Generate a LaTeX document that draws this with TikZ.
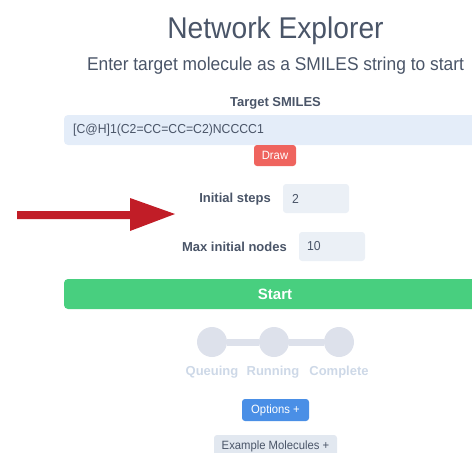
\documentclass[tikz,border=0pt]{standalone}
\usepackage{fontspec}
\usetikzlibrary{calc}
\setmainfont{Liberation Sans}
\newfontfamily\narrowfont[FakeStretch=0.94]{Liberation Sans}
\definecolor{slate}{HTML}{4A5568}
\definecolor{fieldblue}{HTML}{E4EDF9}
\definecolor{fieldgray}{HTML}{EBF0F6}
\definecolor{drawred}{HTML}{EF645E}
\definecolor{arrowred}{HTML}{C11D27}
\definecolor{startgreen}{HTML}{48CF7F}
\definecolor{stepgray}{HTML}{DDE1EB}
\definecolor{steptext}{HTML}{CDD8E7}
\definecolor{optblue}{HTML}{4A8FE6}
\definecolor{btngray}{HTML}{E2E8F0}
\tikzset{
  x=1pt, y=-1pt,
  heading/.style={text=slate, inner sep=0pt, anchor=base},
  fieldlabel/.style={text=slate, font=\bfseries\fontsize{13}{15}\selectfont, inner sep=0pt},
  smallfield/.style={fill=fieldgray, rounded corners=3pt, minimum width=66pt, minimum height=29pt, inner sep=0pt},
  fieldtext/.style={text=slate, font=\narrowfont\fontsize{13}{15}\selectfont, inner sep=0pt, anchor=west},
  stepdot/.style={circle, fill=stepgray, minimum size=30pt, inner sep=0pt},
  steplabel/.style={text=steptext, font=\bfseries\fontsize{13}{15}\selectfont, inner sep=0pt},
  btn/.style={rounded corners=3pt, inner sep=0pt, font=\narrowfont\fontsize{12}{14}\selectfont},
}
\begin{document}
\begin{tikzpicture}
\useasboundingbox (0,0) rectangle (472,453);

% headings
\node[heading, font=\narrowfont\fontsize{30}{34}\selectfont] (title) at (275.5,38) {Network Explorer};
\node[heading, font=\narrowfont\fontsize{18.5}{22}\selectfont] (subtitle) at (275.5,70) {Enter target molecule as a SMILES string to start};

% target SMILES field
\node[fieldlabel] (smileslabel) at (275.5,103) {Target SMILES};
\fill[fieldblue, rounded corners=4pt] (64,115) rectangle (490,145);
\node[fieldtext] (smiles) at (73,130) {[C@H]1(C2=CC=CC=C2)NCCCC1};
\node[btn, fill=drawred, text=white, minimum width=42pt, minimum height=21pt] (draw) at (275,155.5) {Draw};

% numeric fields
\node[fieldlabel, anchor=east] (stepslabel) at (271,199) {Initial steps};
\node[smallfield] (stepsbox) at (316,198.5) {};
\node[fieldtext] (steps) at (292,198.5) {2};
\node[fieldlabel, anchor=east] (nodeslabel) at (287,247) {Max initial nodes};
\node[smallfield] (nodesbox) at (332,246.5) {};
\node[fieldtext] (nodes) at (307,246.5) {10};

% pointer arrow
\coordinate (tail) at (17,215);
\coordinate (tip) at (175,214);
\fill[arrowred] ($(tail)+(0,-4)$) -- (130,211) -- (130,198) -- (tip) -- (130,231) -- (130,219) -- ($(tail)+(0,4)$) -- cycle;

% start button
\fill[startgreen, rounded corners=4pt] (64,279) rectangle (490,309);
\node[text=white, font=\bfseries\fontsize{15}{18}\selectfont, inner sep=0pt] (start) at (275,294.5) {Start};

% progress steps
\node[stepdot] (queue) at (212,342) {};
\node[stepdot] (run) at (274,342) {};
\node[stepdot] (done) at (339,342) {};
\draw[stepgray, line width=7pt] (queue) -- (run) -- (done);
\node[steplabel] (queuelabel) at (212,372) {Queuing};
\node[steplabel] (runlabel) at (273,372) {Running};
\node[steplabel] (donelabel) at (339,372) {Complete};

% option buttons
\node[btn, fill=optblue, text=white, minimum width=67pt, minimum height=22pt] (options) at (275.5,410) {Options +};
\fill[btngray, rounded corners=3pt] (214,435) rectangle (337,460);
\node[text=slate, font=\narrowfont\fontsize{12}{14}\selectfont, inner sep=0pt] (examples) at (275.5,446) {Example Molecules +};
\end{tikzpicture}
\end{document}
